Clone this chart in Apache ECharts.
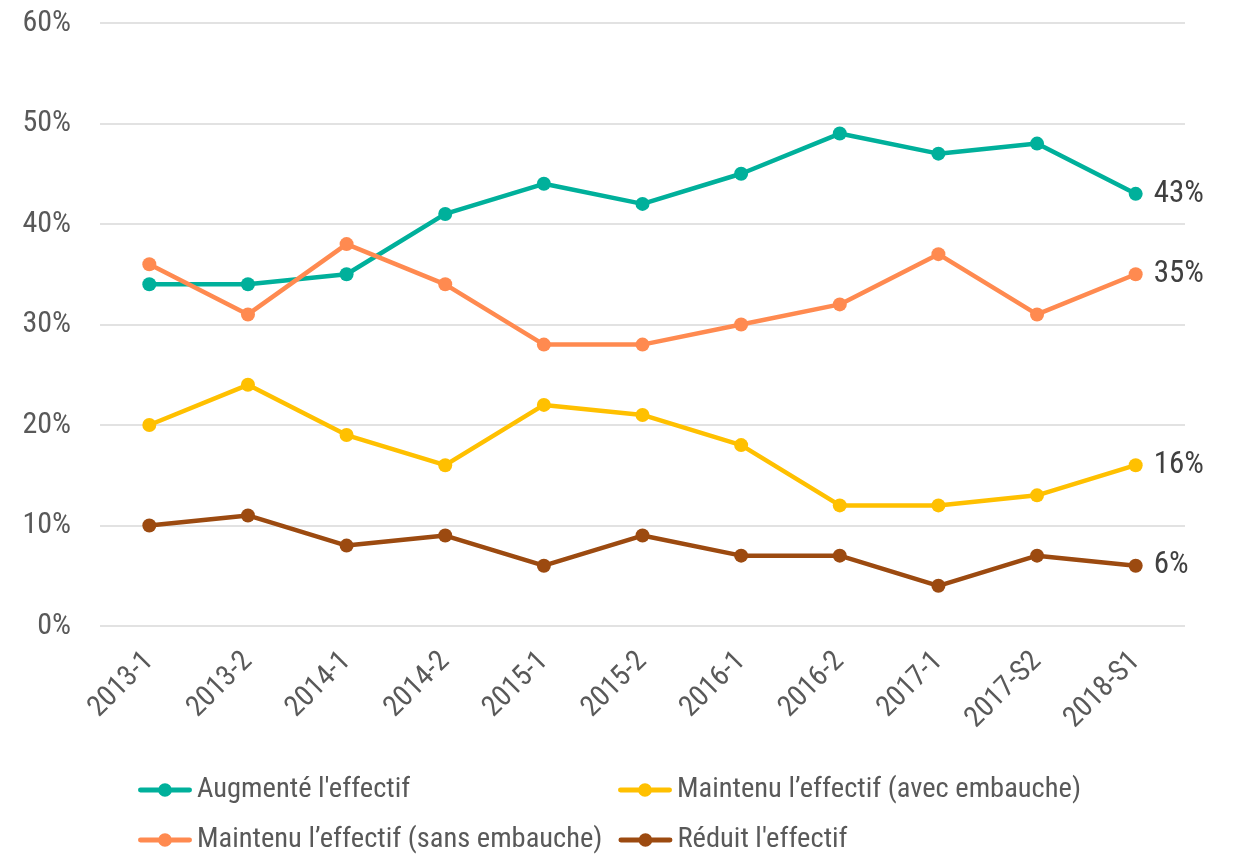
<!DOCTYPE html>
<html>
<head>
<meta charset="utf-8">
<script src="https://cdn.jsdelivr.net/npm/echarts@6/dist/echarts.min.js"></script>
<style>
html, body { margin: 0; padding: 0; background: #fff; }
#main { width: 1235px; height: 854px; }
</style>
</head>
<body>
<div id="main"></div>
<script>
var categories = ['2013-1', '2013-2', '2014-1', '2014-2', '2015-1', '2015-2', '2016-1', '2016-2', '2017-1', '2017-S2', '2018-S1'];
var augmente = [34, 34, 35, 41, 44, 42, 45, 49, 47, 48, 43];
var maintenuAvec = [20, 24, 19, 16, 22, 21, 18, 12, 12, 13, 16];
var maintenuSans = [36, 31, 38, 34, 28, 28, 30, 32, 37, 31, 35];
var reduit = [10, 11, 8, 9, 6, 9, 7, 7, 4, 7, 6];

var FONT = "'Roboto Condensed', 'Liberation Sans', sans-serif";
var TXT = '#595959';
// legend icon: thick line with a dot in the middle
var LEG_ICON = 'path://M2,4.5 L52,4.5 A2.5,2.5 0 1,1 52,9.5 L2,9.5 A2.5,2.5 0 1,1 2,4.5 Z M20,7 A7,7 0 1,1 34,7 A7,7 0 1,1 20,7 Z';

function mkSeries(name, data, color) {
    return {
        name: name,
        type: 'line',
        data: data,
        symbol: 'circle',
        symbolSize: 14,
        lineStyle: { color: color, width: 4.5 },
        itemStyle: { color: color },
        label: {
            show: true,
            position: 'right',
            distance: 11,
            fontFamily: FONT,
            fontSize: 31,
            color: '#404040',
            formatter: function (p) {
                // label only on last point
                return p.dataIndex === data.length - 1 ? p.value + '%' : '';
            }
        }
    };
}

var myChart = echarts.init(document.getElementById('main'));
var option = {
    animation: false,
    grid: { left: 100, right: 50, top: 23, bottom: 228 },
    legend: {
        left: 133, top: 768, width: 970,
        itemGap: 16, itemWidth: 54, itemHeight: 14,
        icon: LEG_ICON,
        textStyle: { fontFamily: FONT, fontSize: 28.5, color: TXT, width: 405, lineHeight: 34 },
        data: ["Augmenté l'effectif", 'Maintenu l\u2019effectif (avec embauche)',
               'Maintenu l\u2019effectif (sans embauche)', "Réduit l'effectif"]
    },
    xAxis: {
        type: 'category',
        data: categories,
        boundaryGap: true,
        axisLine: { show: false },
        axisTick: { show: false },
        axisLabel: {
            interval: 0,
            rotate: 45,
            margin: 31,
            fontFamily: FONT,
            fontSize: 29,
            color: TXT
        }
    },
    yAxis: {
        type: 'value',
        min: 0, max: 60, interval: 10,
        axisLine: { show: false },
        axisTick: { show: false },
        splitLine: { lineStyle: { color: '#d9d9d9', width: 1.5 } },
        axisLabel: {
            formatter: '{value}%',
            margin: 29,
            fontFamily: FONT,
            fontSize: 30,
            color: TXT
        }
    },
    series: [
        mkSeries("Augmenté l'effectif", augmente, '#00b09b'),
        mkSeries('Maintenu l\u2019effectif (avec embauche)', maintenuAvec, '#ffc000'),
        mkSeries('Maintenu l\u2019effectif (sans embauche)', maintenuSans, '#ff8a50'),
        mkSeries("Réduit l'effectif", reduit, '#9c4a10')
    ]
};
myChart.setOption(option);
</script>
</body>
</html>
